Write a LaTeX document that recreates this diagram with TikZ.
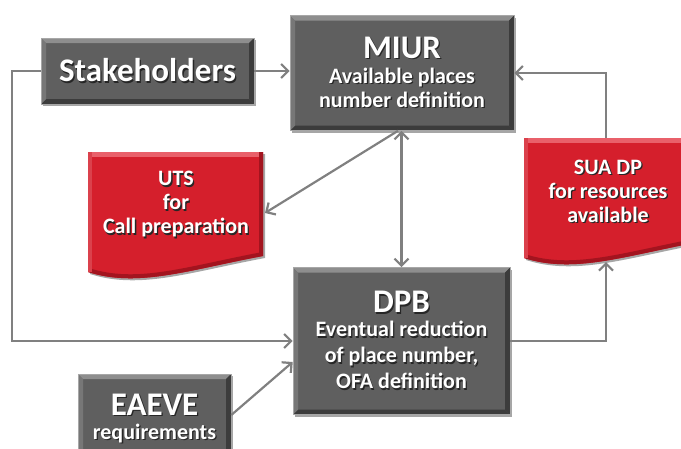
\documentclass[tikz,border=0pt]{standalone}
\usepackage{fontspec}
\setmainfont{Carlito}
\usetikzlibrary{arrows.meta,shadows}

\definecolor{boxgrey}{HTML}{5F5F5F}
\definecolor{boxlight}{HTML}{8E8E8E}
\definecolor{boxdark}{HTML}{3C3C3C}
\definecolor{docred}{HTML}{D51F2C}
\definecolor{doclight}{HTML}{E9606A}
\definecolor{docdark}{HTML}{A3141F}
\definecolor{linegrey}{HTML}{808080}

% white text with a dark shadow
\newcommand\shtxt[1]{\rlap{\kern1.3pt\raisebox{-1.3pt}{\color{black!85}#1}}#1}

\tikzset{
	bevel/.style={path picture={
		\path (path picture bounding box.north west) coordinate (pnw)
		      (path picture bounding box.north east) coordinate (pne)
		      (path picture bounding box.south east) coordinate (pse)
		      (path picture bounding box.south west) coordinate (psw);
		\fill[boxlight] (pnw) -- (pne) -- ([shift={(-5pt,-5pt)}]pne) -- ([shift={(5pt,-5pt)}]pnw) -- cycle;
		\fill[boxdark] (pne) -- (pse) -- ([shift={(-5pt,5pt)}]pse) -- ([shift={(-5pt,-5pt)}]pne) -- cycle;
		\fill[boxdark] (pse) -- (psw) -- ([shift={(5pt,5pt)}]psw) -- ([shift={(-5pt,5pt)}]pse) -- cycle;
		\fill[boxgrey!85!white] (psw) -- (pnw) -- ([shift={(5pt,-5pt)}]pnw) -- ([shift={(5pt,5pt)}]psw) -- cycle;
	}},
	greybox/.style={fill=boxgrey, draw=boxgrey!55!white, line width=0.6pt, text=white, align=center,
		inner sep=0pt, font=\bfseries\fontsize{22}{24}\selectfont, bevel,
		drop shadow={shadow xshift=2pt, shadow yshift=-2pt, fill=black, opacity=0.35}},
	doctext/.style={text=white, align=center, font=\bfseries\fontsize{22}{24}\selectfont},
	link/.style={draw=linegrey, line width=2.2pt, -{Straight Barb[length=7pt,width=14pt]}},
	twolink/.style={link, {Straight Barb[length=7pt,width=14pt]}-{Straight Barb[length=7pt,width=14pt]}},
}
\newcommand\bigtitle[1]{{\fontsize{33}{35}\selectfont\shtxt{#1}}}

\begin{document}
\begin{tikzpicture}[x=1pt, y=-1pt]
	\useasboundingbox (0,0) rectangle (681,448);

	% red documents
	\foreach \dx/\dy/\nm in {88/152/uts, 524/138/sua}
	{
		\begin{scope}[shift={(\dx,\dy)}]
			\fill[docred, drop shadow={shadow xshift=2pt, shadow yshift=-2pt, fill=black, opacity=0.35}]
				(0,0) -- (175,0) -- (175,104) .. controls (100,118) and (50,136) .. (0,120) -- cycle;
			\begin{scope}
				\clip (0,0) -- (175,0) -- (175,104) .. controls (100,118) and (50,136) .. (0,120) -- cycle;
				\draw[doclight, line width=9pt] (0,0) -- (175,0);
				\draw[docdark, line width=9pt] (175,0) -- (175,104);
				\draw[docdark, line width=8pt] (175,104) .. controls (100,118) and (50,136) .. (0,120);
				\draw[docred!85!white, line width=8pt] (0,0) -- (0,120);
			\end{scope}
			\coordinate (\nm-e) at (177,61);
			\coordinate (\nm-n) at (82,0);
			\coordinate (\nm-s) at (82,124);
		\end{scope}
	}
	\node[doctext] (utstext) at (176,205) {\shtxt{UTS}\\ \shtxt{for}\\ \shtxt{Call preparation}};
	\node[doctext] (suatext) at (608,192) {\shtxt{SUA DP}\\ \shtxt{for resources}\\ \shtxt{available}};

	% grey boxes
	\node[greybox, minimum width=213pt, minimum height=66pt, font=\bfseries\fontsize{33}{35}\selectfont] (stake) at (147.5,71) {\shtxt{Stakeholders}};
	\node[greybox, minimum width=224pt, minimum height=115pt] (miur) at (402,73)
		{\bigtitle{MIUR}\\[1pt] \shtxt{Available places}\\ \shtxt{number definition}};
	\node[greybox, minimum width=217pt, minimum height=147pt] (dpb) at (401.5,341)
		{\bigtitle{DPB}\\ \shtxt{Eventual reduction}\\[2pt] \shtxt{of place number,}\\[2pt] \shtxt{OFA definition}};
	\node[greybox, minimum width=153pt, minimum height=90pt] (eaeve) at (154.5,419)
		{\bigtitle{EAEVE}\\ \shtxt{requirements}};

	% connectors
	\draw[link] (stake.east) -- (stake.east -| miur.west);
	\draw[link] (stake.west) -- ++(-29,0) |- (dpb.west);
	\draw[link] (sua-n) |- (miur.east);
	\draw[link] (dpb.east) -| (sua-s);
	\draw[twolink] (dpb.north |- miur.south) -- (dpb.north);
	\draw[link] ([xshift=-4pt]miur.south) -- (uts-e);
	\draw[link] ([yshift=4pt]eaeve.east) -- ([yshift=-21pt]dpb.west);
\end{tikzpicture}
\end{document}
